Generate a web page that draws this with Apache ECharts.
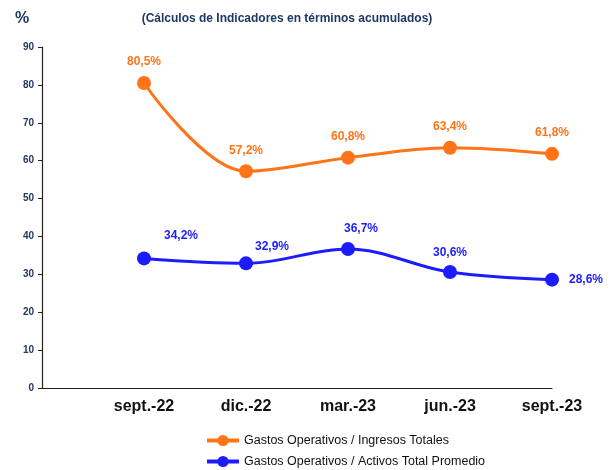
<!DOCTYPE html>
<html><head><meta charset="utf-8">
<script src="https://cdn.jsdelivr.net/npm/echarts@6/dist/echarts.min.js"></script>
<style>html,body{margin:0;padding:0;background:#fff}#c{width:612px;height:470px}</style>
</head><body><div id="c"></div>
<script>
const categories = ['sept.-22','dic.-22','mar.-23','jun.-23','sept.-23'];
const ingresosTotales = [80.5, 57.2, 60.8, 63.4, 61.8];
const activosPromedio = [34.2, 32.9, 36.7, 30.6, 28.6];
const yTicks = [0,10,20,30,40,50,60,70,80,90];
const seriesNames = ['Gastos Operativos / Ingresos Totales','Gastos Operativos / Activos Total Promedio'];
const titleText = '(Cálculos de Indicadores en términos acumulados)';

const ORANGE = '#FF7417', BLUE = '#1C1CFF';
const fmt = v => v.toFixed(1).replace('.', ',') + '%';
const blueOffsets = [[37,-23],[26,-17],[13,-20],[0,-19],[34,0]];

const chart = echarts.init(document.getElementById('c'));
chart.setOption({
  animation: false,
  textStyle: {fontFamily: 'Liberation Sans, Arial, sans-serif'},
  title: [
    {text: titleText, left: 282, top: 8, textAlign: 'center',
     textStyle: {fontFamily: 'Liberation Sans, Arial, sans-serif', fontSize: 12, fontWeight: 'bold', color: '#1F3864'}},
    {text: '%', left: 10, top: 6,
     textStyle: {fontSize: 16, fontWeight: 'bold', color: '#1F3864'}}
  ],
  legend: {
    orient: 'vertical', left: 205, top: 434, padding: 0, itemWidth: 32, itemHeight: 14, itemGap: 8,
    textStyle: {fontSize: 12.5, color: '#111'},
    lineStyle: {width: 4},
    data: seriesNames
  },
  grid: {left: 42, right: 60, top: 47, bottom: 82},
  xAxis: {
    type: 'category', boundaryGap: false,
    data: [''].concat(categories),
    axisLine: {lineStyle: {color: '#222', width: 1.2}},
    axisTick: {show: false},
    axisLabel: {fontSize: 16, fontWeight: 'bold', color: '#111', margin: 11, interval: 0},
    splitLine: {show: false}
  },
  yAxis: {
    type: 'value', min: yTicks[0], max: yTicks[yTicks.length-1], interval: 10,
    axisLine: {show: true, lineStyle: {color: '#222', width: 1.2}},
    axisTick: {show: true, length: 4, lineStyle: {color: '#222'}},
    axisLabel: {fontSize: 10, fontWeight: 'bold', color: '#1F3864', margin: 8},
    splitLine: {show: false}
  },
  series: [
    {
      name: seriesNames[0], type: 'line', smooth: 0.35,
      data: [null].concat(ingresosTotales.map(v => ({value: v}))),
      symbol: 'circle', symbolSize: 14, color: ORANGE,
      lineStyle: {width: 3, color: ORANGE}, itemStyle: {color: ORANGE},
      label: {show: true, position: 'top', distance: 8, formatter: p => fmt(p.value),
              fontSize: 12, fontWeight: 'bold', color: ORANGE}
    },
    {
      name: seriesNames[1], type: 'line', smooth: 0.35,
      data: [null].concat(activosPromedio.map((v, i) => ({
        value: v,
        label: {offset: blueOffsets[i]}
      }))),
      symbol: 'circle', symbolSize: 14, color: BLUE,
      lineStyle: {width: 3, color: BLUE}, itemStyle: {color: BLUE},
      label: {show: true, position: 'inside', formatter: p => fmt(p.value),
              fontSize: 12, fontWeight: 'bold', color: BLUE}
    }
  ]
});
</script></body></html>
